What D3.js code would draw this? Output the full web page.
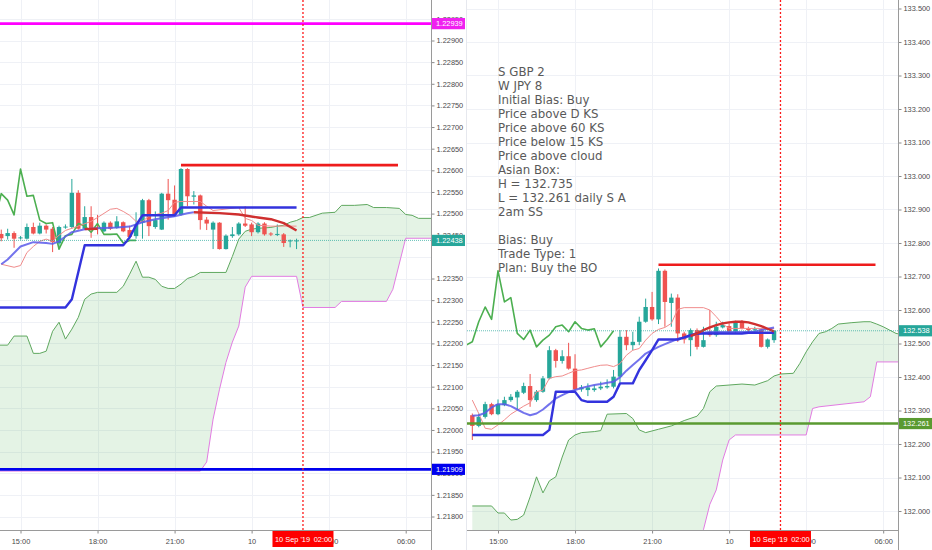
<!DOCTYPE html>
<html><head><meta charset="utf-8">
<script src="https://cdn.jsdelivr.net/npm/d3@7"></script>
<style>body{margin:0;background:#fff;overflow:hidden}svg{display:block}</style>
</head><body>
<svg id="chart" width="932" height="550"></svg>
<script>
// ---------- shared time axis (hours since 9 Sep 2019 00:00) ----------
const timeTicks = [15, 18, 21, 24, 27, 30];
const timeTickLabels = ["15:00", "18:00", "21:00", "10", "03:00", "06:00"];
const cursorTime = 26;
const cursorDate = "10 Sep '19";
const cursorHour = "02:00";
const barStep = 0.25; // 15-minute candles
const chikouShift = 25;

// ---------- left chart (GBP pair) ----------
const gbpStart = 14.25;
const gbpOpen  = [1.22453,1.22448,1.22455,1.22443,1.22442,1.22469,1.22454,1.22472,1.22465,1.22431,1.22469,1.22469,1.22548,1.22465,1.22492,1.22468,1.22459,1.22479,1.22467,1.22480,1.22462,1.22448,1.22479,1.22531,1.22469,1.22463,1.22546,1.22532,1.22497,1.22603,1.22539,1.22542,1.22486,1.22463,1.22479,1.22418,1.22448,1.22452,1.22477,1.22475,1.22457,1.22477,1.22454,1.22452,1.22452,1.22436,1.22437];
const gbpHigh  = [1.22463,1.22465,1.22459,1.22448,1.22477,1.22479,1.22479,1.22475,1.22469,1.22472,1.22475,1.22580,1.22554,1.22517,1.22517,1.22497,1.22482,1.22482,1.22494,1.22482,1.22472,1.22503,1.22534,1.22534,1.22505,1.22548,1.22580,1.22565,1.22605,1.22605,1.22552,1.22544,1.22492,1.22482,1.22480,1.22452,1.22469,1.22480,1.22517,1.22479,1.22480,1.22480,1.22457,1.22475,1.22455,1.22440,1.22442];
const gbpLow   = [1.22436,1.22440,1.22421,1.22440,1.22440,1.22452,1.22452,1.22454,1.22411,1.22417,1.22465,1.22465,1.22463,1.22462,1.22444,1.22452,1.22457,1.22462,1.22465,1.22457,1.22444,1.22442,1.22442,1.22448,1.22465,1.22462,1.22486,1.22494,1.22495,1.22517,1.22521,1.22463,1.22462,1.22418,1.22417,1.22417,1.22444,1.22449,1.22469,1.22448,1.22454,1.22449,1.22448,1.22448,1.22423,1.22422,1.22418];
const gbpClose = [1.22443,1.22455,1.22442,1.22445,1.22469,1.22454,1.22472,1.22463,1.22434,1.22469,1.22470,1.22548,1.22465,1.22492,1.22463,1.22466,1.22479,1.22465,1.22482,1.22459,1.22446,1.22475,1.22531,1.22471,1.22485,1.22546,1.22531,1.22497,1.22603,1.22540,1.22542,1.22485,1.22477,1.22479,1.22418,1.22449,1.22452,1.22477,1.22472,1.22457,1.22477,1.22452,1.22452,1.22453,1.22432,1.22438,1.22438];
const gbpTenkan = [[14.25,1.22383],[14.75,1.22376],[15,1.22380],[15.25,1.22410],[15.5,1.22424],[15.75,1.22436],[16,1.22441],[16.25,1.22436],[16.5,1.22450],[16.75,1.22461],[17,1.22466],[17.25,1.22471],[17.75,1.22482],[18,1.22491],[18.5,1.22510],[18.75,1.22512],[19,1.22505],[19.25,1.22496],[19.5,1.22482],[19.75,1.22482],[20,1.22494],[20.5,1.22501],[20.75,1.22507],[21,1.22526],[21.25,1.22528],[22,1.22528],[22.25,1.22517],[22.5,1.22507],[23.5,1.22514],[23.75,1.22489],[24,1.22484],[24.25,1.22473],[24.75,1.22471],[25.75,1.22471]];
const gbpKijun = [[14,1.22283],[16.75,1.22283],[17,1.22302],[17.5,1.22427],[19,1.22427],[19.25,1.22445],[19.5,1.22473],[19.75,1.22496],[21,1.22496],[21.25,1.22514],[25.75,1.22514]];
const gbpBlueMa = [[14.25,1.22383],[14.5,1.22394],[15,1.22424],[15.5,1.22434],[16,1.22432],[16.25,1.22430],[16.5,1.22436],[16.75,1.22447],[17,1.22457],[17.5,1.22464],[18,1.22466],[18.75,1.22468],[19.25,1.22470],[19.75,1.22480],[20.25,1.22487],[21,1.22494],[21.5,1.22501],[21.75,1.22503]];
const gbpRedMaEarly = [[17.5,1.22464],[18,1.22465]];
const gbpRedMa = [[21.75,1.22503],[22.75,1.22501],[23.5,1.22498],[24.25,1.22491],[24.75,1.22487],[25.25,1.22478],[25.75,1.22461]];
const gbpSpanA = [[14,1.22196],[14.5,1.22196],[14.75,1.22217],[15.25,1.22217],[15.5,1.22177],[15.75,1.22177],[16,1.22182],[16.25,1.22228],[16.5,1.22249],[16.75,1.22210],[17,1.22233],[17.25,1.22260],[17.5,1.22302],[17.75,1.22314],[18,1.22318],[18.75,1.22318],[19,1.22332],[19.25,1.22360],[19.5,1.22390],[19.75,1.22353],[20,1.22353],[20.25,1.22348],[20.5,1.22332],[20.75,1.22327],[21,1.22327],[21.25,1.22337],[21.5,1.22350],[21.75,1.22355],[22,1.22364],[23,1.22364],[23.25,1.22401],[23.5,1.22441],[23.75,1.22459],[24,1.22464],[24.25,1.22466],[24.75,1.22468],[25,1.22471],[25.25,1.22473],[25.5,1.22480],[25.75,1.22484],[26,1.22491],[26.25,1.22491],[26.75,1.22501],[27.25,1.22503],[27.5,1.22519],[28,1.22519],[28.5,1.22521],[28.75,1.22514],[29.25,1.22514],[29.75,1.22512],[30,1.22498],[30.25,1.22496],[30.5,1.22489],[31.25,1.22489]];
const gbpSpanB = [[14,1.21905],[22,1.21905],[22.25,1.21926],[22.5,1.22025],[22.75,1.22094],[23,1.22156],[23.25,1.22203],[23.5,1.22240],[23.75,1.22330],[24,1.22355],[25.75,1.22355],[26,1.22283],[27.25,1.22283],[27.5,1.22297],[29.25,1.22297],[29.5,1.22325],[30,1.22443],[31.25,1.22443]];
const gbpPriceTicks = [1.2295,1.229,1.2285,1.228,1.2275,1.227,1.2265,1.226,1.2255,1.225,1.2245,1.2235,1.223,1.2225,1.222,1.2215,1.221,1.2205,1.22,1.2195,1.219,1.2185,1.218];
const gbpGridTicks = [1.2295,1.229,1.2285,1.228,1.2275,1.227,1.2265,1.226,1.2255,1.225,1.2245,1.224,1.2235,1.223,1.2225,1.222,1.2215,1.221,1.2205,1.22,1.2195,1.219,1.2185,1.218];
const gbpUpperLevel = 1.22939;
const gbpLowerLevel = 1.21909;
const gbpAsiaHigh = 1.22612;
const gbpLast = 1.22438;

// ---------- right chart (JPY pair) ----------
const jpyStart = 14.0;
const jpyOpen  = [132.286,132.254,132.281,132.319,132.289,132.316,132.331,132.339,132.353,132.373,132.331,132.356,132.396,132.480,132.448,132.462,132.425,132.363,132.361,132.361,132.366,132.369,132.371,132.401,132.520,132.495,132.505,132.565,132.609,132.572,132.717,132.621,132.637,132.530,132.510,132.540,132.490,132.535,132.525,132.548,132.552,132.535,132.565,132.545,132.542,132.542,132.490,132.510];
const jpyHigh  = [132.291,132.291,132.326,132.323,132.333,132.341,132.349,132.361,132.383,132.409,132.361,132.403,132.492,132.484,132.480,132.502,132.468,132.376,132.381,132.376,132.386,132.393,132.421,132.540,132.540,132.535,132.580,132.634,132.654,132.724,132.721,132.649,132.647,132.535,132.545,132.545,132.550,132.600,132.565,132.565,132.560,132.568,132.570,132.550,132.550,132.545,132.515,132.540];
const jpyLow   = [132.212,132.250,132.276,132.286,132.286,132.313,132.326,132.303,132.349,132.311,132.326,132.353,132.393,132.428,132.440,132.422,132.361,132.356,132.343,132.356,132.361,132.365,132.366,132.383,132.480,132.480,132.495,132.562,132.568,132.558,132.550,132.550,132.505,132.500,132.462,132.482,132.488,132.520,132.520,132.545,132.530,132.530,132.542,132.535,132.535,132.488,132.485,132.502];
const jpyClose = [132.254,132.281,132.319,132.289,132.319,132.331,132.341,132.356,132.373,132.331,132.356,132.396,132.480,132.448,132.462,132.425,132.363,132.369,132.369,132.366,132.371,132.373,132.401,132.520,132.495,132.505,132.565,132.609,132.572,132.717,132.624,132.637,132.530,132.512,132.540,132.490,132.510,132.525,132.550,132.555,132.535,132.565,132.545,132.540,132.544,132.490,132.512,132.538];
const jpyTenkan = [[14,132.331],[14.25,132.291],[14.5,132.247],[14.75,132.244],[15,132.257],[15.25,132.272],[15.5,132.289],[15.75,132.301],[16,132.313],[16.25,132.323],[16.5,132.356],[16.75,132.361],[17,132.396],[17.25,132.401],[17.5,132.403],[17.75,132.411],[18,132.419],[18.25,132.421],[18.5,132.426],[18.75,132.431],[19,132.435],[19.25,132.436],[19.5,132.431],[19.75,132.440],[20,132.465],[20.25,132.480],[20.5,132.485],[20.75,132.510],[21,132.530],[21.25,132.542],[21.5,132.548],[21.75,132.560],[22,132.602],[22.25,132.607],[23,132.607],[23.25,132.600],[23.5,132.580],[23.75,132.558],[24,132.545],[25.75,132.545]];
const jpyKijun = [[14,132.227],[16.75,132.227],[17,132.242],[17.25,132.356],[18,132.356],[18.25,132.331],[18.5,132.326],[19.25,132.326],[19.5,132.341],[19.75,132.381],[20.25,132.381],[20.5,132.421],[20.75,132.450],[21,132.480],[21.25,132.512],[22,132.512],[22.25,132.518],[22.5,132.525],[22.75,132.530],[24.5,132.530],[24.75,132.532],[25.75,132.532]];
const jpyBlueMa = [[14,132.284],[14.25,132.286],[14.5,132.293],[14.75,132.309],[15,132.319],[15.25,132.319],[15.5,132.313],[15.75,132.303],[16,132.293],[16.25,132.286],[16.5,132.291],[16.75,132.303],[17,132.319],[17.25,132.336],[17.5,132.346],[17.75,132.355],[18,132.361],[18.25,132.367],[18.5,132.372],[18.75,132.376],[19,132.379],[19.25,132.383],[19.5,132.386],[19.75,132.399],[20,132.419],[20.25,132.436],[20.5,132.452],[20.75,132.470],[21,132.480],[21.25,132.490],[21.5,132.498],[21.75,132.506],[22,132.514],[22.25,132.517],[22.5,132.522],[22.75,132.528],[23,132.532],[23.25,132.534],[24.75,132.535],[25,132.536],[25.25,132.540],[25.5,132.544],[25.75,132.548]];
const jpyRedMaEarly = [];
const jpyRedMa = [[22.5,132.522],[22.75,132.530],[23,132.540],[23.25,132.548],[23.5,132.555],[23.75,132.560],[24,132.563],[24.25,132.565],[24.5,132.565],[24.75,132.563],[25,132.558],[25.25,132.552],[25.5,132.544],[25.75,132.536]];
const jpySpanA = [[14,132.015],[14.75,132.015],[15,131.994],[15.25,131.994],[15.5,131.973],[15.75,131.975],[16,131.988],[16.25,132.042],[16.5,132.102],[16.75,132.054],[17,132.090],[17.25,132.102],[17.5,132.161],[17.75,132.212],[18,132.227],[18.25,132.234],[18.75,132.237],[19,132.240],[19.25,132.289],[20,132.291],[20.25,132.276],[20.5,132.242],[20.75,132.234],[21.25,132.244],[21.75,132.254],[22.25,132.270],[22.75,132.283],[23,132.306],[23.25,132.356],[23.5,132.373],[24,132.376],[24.5,132.379],[25,132.376],[25.5,132.389],[25.75,132.403],[26,132.409],[26.5,132.411],[26.75,132.440],[27,132.475],[27.25,132.505],[27.5,132.530],[27.75,132.535],[28,132.545],[28.25,132.558],[28.75,132.562],[29.25,132.565],[29.5,132.565],[29.75,132.558],[30,132.550],[30.25,132.540],[30.5,132.530],[30.75,132.527]];
const jpySpanB = [[14,131.90],[22.75,131.90],[23,131.944],[23.25,132.020],[23.5,132.063],[23.75,132.152],[24,132.212],[24.25,132.227],[27,132.227],[27.25,132.306],[27.5,132.311],[29.25,132.326],[29.5,132.341],[29.75,132.445],[30.75,132.445]];
const jpyPriceTicks = [133.5,133.4,133.3,133.2,133.1,133.0,132.9,132.8,132.7,132.6,132.5,132.4,132.3,132.2,132.1,132.0];
const jpyDailySupport = 132.261;
const jpyAsiaHigh = 132.735;
const jpyLast = 132.538;
const levelEnd = 29.7;
const levelStart = 21.25;

const noteLines = ["S GBP 2","W JPY 8","Initial Bias: Buy","Price above D KS","Price above 60 KS","Price below 15 KS","Price above cloud","Asian Box:","H = 132.735","L = 132.261 daily S A","2am SS","","Bias: Buy","Trade Type: 1","Plan: Buy the BO"];

// ---------- drawing ----------
const svg = d3.select("#chart");
const plotBottom = 530;
const UP = "#26a69a", DOWN = "#ef5350";
const AXIS_FONT = "'Liberation Sans', Arial, sans-serif";

svg.append("rect").attr("width", 932).attr("height", 550).attr("fill", "#fff");

function drawPanel(p) {
  const x = d3.scaleLinear().domain([15, 30]).range(p.xRange);
  const y = d3.scaleLinear().domain(p.yDomain).range(p.yRange);
  const clipId = "clip-" + p.id;
  svg.append("defs").append("clipPath").attr("id", clipId)
    .append("rect").attr("x", p.left).attr("y", 0).attr("width", p.right - p.left).attr("height", plotBottom);
  const plot = svg.append("g").attr("clip-path", `url(#${clipId})`);
  const line = d3.line().x(d => x(d[0])).y(d => y(d[1]));

  // grid
  plot.append("g").selectAll("line").data(p.gridTicks).join("line")
    .attr("x1", p.left).attr("x2", p.right)
    .attr("y1", d => Math.round(y(d)) + 0.5).attr("y2", d => Math.round(y(d)) + 0.5)
    .attr("stroke", "#eff1f6");
  plot.append("g").selectAll("line").data(timeTicks).join("line")
    .attr("x1", d => Math.round(x(d)) + 0.5).attr("x2", d => Math.round(x(d)) + 0.5)
    .attr("y1", 0).attr("y2", plotBottom).attr("stroke", "#eff1f6");

  // cloud
  const upper = line(p.spanA);
  const lower = line(p.spanB.slice().reverse());
  plot.append("path").attr("d", upper + "L" + lower.slice(1) + "Z")
    .attr("fill", "#4caf50").attr("fill-opacity", 0.15);
  plot.append("path").attr("d", upper).attr("fill", "none").attr("stroke", "#5fa85f").attr("stroke-width", 1);
  plot.append("path").attr("d", line(p.spanB)).attr("fill", "none").attr("stroke", "#e27ce2").attr("stroke-width", 1);

  // candles
  const bars = p.open.map((o, i) => ({ t: p.start + i * barStep, o, h: p.high[i], l: p.low[i], c: p.close[i] }));
  const cg = plot.append("g");
  cg.selectAll("line").data(bars).join("line")
    .attr("x1", d => x(d.t)).attr("x2", d => x(d.t))
    .attr("y1", d => y(d.h)).attr("y2", d => y(d.l))
    .attr("stroke", d => d.c >= d.o ? UP : DOWN).attr("stroke-width", 1);
  cg.selectAll("rect").data(bars).join("rect")
    .attr("x", d => x(d.t) - 2.2).attr("width", 4.4)
    .attr("y", d => y(Math.max(d.o, d.c)))
    .attr("height", d => Math.max(1, Math.abs(y(d.o) - y(d.c))))
    .attr("fill", d => d.c >= d.o ? UP : DOWN);

  // indicator lines
  const chikou = p.close.map((c, i) => [p.start + (i - chikouShift) * barStep, c]);
  const lines = [
    { d: chikou, c: "#4caf50", w: 1.6 },
    { d: p.tenkan, c: "#f08c8c", w: 1 },
    { d: p.blueMa, c: "#5b5bea", w: 2, o: 0.85 },
    { d: p.kijun, c: "#3333dd", w: 2.4 },
    { d: p.redMaEarly, c: "#cf2f2f", w: 2.4 },
    { d: p.redMa, c: "#cf2f2f", w: 2.4 }
  ].filter(l => l.d.length > 1);
  plot.append("g").selectAll("path").data(lines).join("path")
    .attr("d", d => line(d.d)).attr("fill", "none")
    .attr("stroke", d => d.c).attr("stroke-width", d => d.w)
    .attr("stroke-opacity", d => d.o || 1).attr("stroke-linejoin", "round");

  // horizontal drawings
  plot.append("g").selectAll("line").data(p.levels).join("line")
    .attr("x1", d => d.from != null ? x(d.from) : p.left)
    .attr("x2", d => d.to != null ? x(d.to) : p.right)
    .attr("y1", d => y(d.price)).attr("y2", d => y(d.price))
    .attr("stroke", d => d.color).attr("stroke-width", d => d.w);

  // last price line
  plot.append("line").attr("x1", p.left).attr("x2", p.right)
    .attr("y1", y(p.last)).attr("y2", y(p.last))
    .attr("stroke", UP).attr("stroke-opacity", 0.7).attr("stroke-dasharray", "1,1");

  // cursor vertical
  plot.append("line").attr("x1", x(cursorTime)).attr("x2", x(cursorTime))
    .attr("y1", 0).attr("y2", plotBottom)
    .attr("stroke", "#ff1a1a").attr("stroke-width", 1.3).attr("stroke-dasharray", "2,2");

  // price axis
  const ya = d3.axisRight(y).tickValues(p.priceTicks).tickFormat(p.fmt).tickSize(3).tickPadding(2);
  const ag = svg.append("g").attr("transform", `translate(${p.right + 0.5},0)`).call(ya);
  ag.select(".domain").remove();
  ag.attr("font-size", 7.4).attr("font-family", AXIS_FONT).attr("color", "#4a4a4a");
  ag.selectAll("line").attr("stroke", "#8a8a8a");
  svg.append("line").attr("x1", p.right + 0.5).attr("x2", p.right + 0.5).attr("y1", 0).attr("y2", 550)
    .attr("stroke", "#9a9a9a");

  // time axis
  const xa = d3.axisBottom(x).tickValues(timeTicks).tickFormat((d, i) => timeTickLabels[i]).tickSize(3).tickPadding(5);
  const tg = svg.append("g").attr("transform", `translate(0,${plotBottom + 0.5})`).call(xa);
  tg.select(".domain").remove();
  tg.attr("font-size", 7.4).attr("font-family", AXIS_FONT).attr("color", "#4a4a4a");
  tg.selectAll("line").attr("stroke", "#8a8a8a");
  svg.append("line").attr("x1", p.left).attr("x2", p.right + 0.5)
    .attr("y1", plotBottom + 0.5).attr("y2", plotBottom + 0.5).attr("stroke", "#9a9a9a");

  // cursor label
  const cx = x(cursorTime);
  svg.append("rect").attr("x", cx - 30.5).attr("y", plotBottom + 1).attr("width", 61).attr("height", 16).attr("fill", "#ff0000");
  svg.append("text").attr("x", cx - 10.5).attr("y", plotBottom + 11.8).attr("text-anchor", "middle")
    .attr("font-size", 7.4).attr("font-family", AXIS_FONT).attr("fill", "#fff").text(cursorDate);
  svg.append("text").attr("x", cx + 20).attr("y", plotBottom + 11.8).attr("text-anchor", "middle")
    .attr("font-size", 7.4).attr("font-family", AXIS_FONT).attr("fill", "#fff").text(cursorHour);

  // price tags
  const tags = svg.append("g").selectAll("g").data(p.tags).join("g")
    .attr("transform", d => `translate(${p.right + 1},${y(d.price)})`);
  tags.append("rect").attr("x", 0).attr("y", -5.6).attr("width", 33).attr("height", 11.2).attr("fill", d => d.color);
  tags.append("text").attr("x", 4).attr("y", 2.7).attr("font-size", 7.4).attr("font-family", AXIS_FONT)
    .attr("fill", "#fff").text(d => p.fmt(d.price));
}

drawPanel({
  id: "gbp", left: 0, right: 431,
  xRange: [20.5, 405.7], yDomain: [1.229, 1.218], yRange: [40.5, 516.5],
  start: gbpStart, open: gbpOpen, high: gbpHigh, low: gbpLow, close: gbpClose,
  tenkan: gbpTenkan, kijun: gbpKijun, blueMa: gbpBlueMa, redMa: gbpRedMa, redMaEarly: gbpRedMaEarly,
  spanA: gbpSpanA, spanB: gbpSpanB,
  priceTicks: gbpPriceTicks, gridTicks: gbpGridTicks, fmt: d3.format(".5f"),
  levels: [
    { price: gbpUpperLevel, color: "#ff00ff", w: 2.6 },
    { price: gbpLowerLevel, color: "#0000ee", w: 2.8 },
    { price: gbpAsiaHigh, color: "#ee1c1c", w: 2.6, from: levelStart, to: levelEnd }
  ],
  last: gbpLast,
  tags: [
    { price: gbpUpperLevel, color: "#f020f0" },
    { price: gbpLast, color: UP },
    { price: gbpLowerLevel, color: "#0000ee" }
  ]
});

// thin separator before the right chart
svg.append("line").attr("x1", 466.5).attr("x2", 466.5).attr("y1", 0).attr("y2", 550).attr("stroke", "#e6e8ee");

drawPanel({
  id: "jpy", left: 467, right: 898,
  xRange: [498, 883.2], yDomain: [133.5, 132.0], yRange: [8.5, 511],
  start: jpyStart, open: jpyOpen, high: jpyHigh, low: jpyLow, close: jpyClose,
  tenkan: jpyTenkan, kijun: jpyKijun, blueMa: jpyBlueMa, redMa: jpyRedMa, redMaEarly: jpyRedMaEarly,
  spanA: jpySpanA, spanB: jpySpanB,
  priceTicks: jpyPriceTicks, gridTicks: jpyPriceTicks, fmt: d3.format(".3f"),
  levels: [
    { price: jpyDailySupport, color: "#5a9a30", w: 2.6 },
    { price: jpyAsiaHigh, color: "#ee1c1c", w: 2.6, from: levelStart, to: levelEnd }
  ],
  last: jpyLast,
  tags: [
    { price: jpyLast, color: UP },
    { price: jpyDailySupport, color: "#5a9a30" }
  ]
});

// text note on the right chart
const note = svg.append("text").attr("font-family", "'DejaVu Sans', sans-serif")
  .attr("font-size", 12).attr("fill", "#595959");
note.selectAll("tspan").data(noteLines).join("tspan")
  .attr("x", 0).attr("y", (d, i) => i * 14).text(d => d || " ");
const refWidth = note.selectAll("tspan").nodes()[9].getComputedTextLength();
note.attr("transform", `translate(498,76) scale(${128 / refWidth},1)`);
</script>
</body></html>
